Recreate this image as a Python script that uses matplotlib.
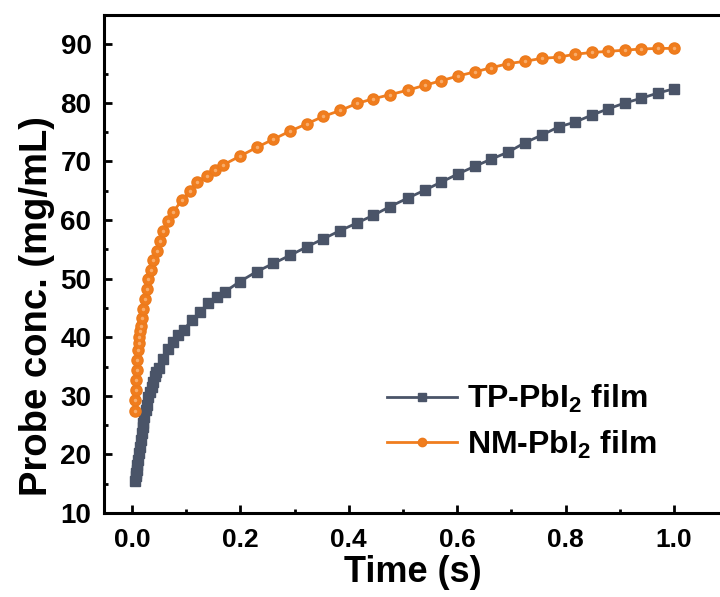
import matplotlib
matplotlib.use('Agg')
import matplotlib.pyplot as plt
from matplotlib.ticker import MultipleLocator

plt.rcParams['font.family'] = ['Liberation Sans', 'DejaVu Sans']
plt.rcParams['font.weight'] = 'bold'
plt.rcParams['mathtext.fontset'] = 'custom'
plt.rcParams['mathtext.bf'] = 'Liberation Sans:bold'
plt.rcParams['mathtext.rm'] = 'Liberation Sans:bold'

# TP-PbI2 film
tp_t = [0.006, 0.007, 0.008, 0.009, 0.010, 0.011, 0.013, 0.015, 0.016, 0.018,
        0.020, 0.021, 0.023, 0.025, 0.027, 0.030, 0.033, 0.036, 0.039, 0.042,
        0.045, 0.049, 0.058, 0.067, 0.076, 0.085, 0.095, 0.110, 0.125, 0.141,
        0.156, 0.172, 0.199, 0.230, 0.261, 0.292, 0.322, 0.353, 0.384, 0.415,
        0.445, 0.476, 0.510, 0.540, 0.571, 0.602, 0.633, 0.663, 0.694, 0.725,
        0.756, 0.787, 0.817, 0.848, 0.879, 0.910, 0.940, 0.971, 1.000]
tp_c = [15.4, 16.3, 16.8, 17.4, 18.2, 19.0, 20.2, 21.3, 22.4, 23.6,
        24.7, 25.3, 26.4, 27.6, 28.4, 29.8, 30.7, 31.5, 32.4, 33.3,
        34.0, 34.7, 36.3, 38.0, 39.2, 40.3, 41.2, 42.9, 44.3, 45.8,
        46.9, 47.8, 49.5, 51.2, 52.6, 54.0, 55.4, 56.8, 58.2, 59.5,
        60.8, 62.3, 63.8, 65.1, 66.5, 67.9, 69.2, 70.4, 71.6, 73.2,
        74.5, 75.9, 76.7, 77.9, 79.0, 80.0, 80.8, 81.7, 82.4]

# NM-PbI2 film
nm_t = [0.005, 0.006, 0.007, 0.008, 0.009, 0.010, 0.011, 0.012, 0.013, 0.015,
        0.016, 0.018, 0.021, 0.024, 0.027, 0.030, 0.035, 0.039, 0.046, 0.052,
        0.058, 0.067, 0.076, 0.092, 0.107, 0.119, 0.138, 0.153, 0.168, 0.199,
        0.230, 0.261, 0.292, 0.322, 0.353, 0.384, 0.415, 0.445, 0.476, 0.510,
        0.540, 0.571, 0.602, 0.633, 0.663, 0.694, 0.725, 0.756, 0.787, 0.817,
        0.848, 0.879, 0.910, 0.940, 0.971, 1.000]
nm_c = [27.4, 29.3, 31.0, 32.7, 34.4, 36.1, 37.8, 39.0, 40.0, 41.0,
        42.0, 43.2, 44.9, 46.6, 48.3, 50.0, 51.4, 53.1, 54.8, 56.5,
        58.2, 59.9, 61.4, 63.4, 65.0, 66.5, 67.5, 68.5, 69.4, 70.9,
        72.4, 73.8, 75.2, 76.4, 77.7, 78.7, 79.9, 80.7, 81.4, 82.2,
        83.0, 83.8, 84.6, 85.3, 86.0, 86.7, 87.1, 87.6, 87.8, 88.3,
        88.6, 88.8, 89.0, 89.2, 89.3, 89.3]

tp_color = '#4a5468'
nm_color = '#f07d1e'

fig = plt.figure(figsize=(7.2, 5.97), dpi=100)
ax = fig.add_axes([104 / 720, 84 / 597, 618 / 720, 498 / 597])

ax.plot(tp_t, tp_c, color=tp_color, lw=2, marker='s', ms=7.5,
        mec=tp_color, mfc=tp_color, label=r'TP-PbI$_\mathbf{2}$ film')
ax.plot(nm_t, nm_c, color=nm_color, lw=2, marker='o', ms=8,
        mec='#ec7a1c', mfc=nm_color, label=r'NM-PbI$_\mathbf{2}$ film')
# little highlight on the round markers
ax.plot(nm_t, nm_c, ls='none', marker='o', ms=2.5, mec='none', mfc='#f8ac6a')

ax.set_xlim(-0.0517, 1.0886)
ax.set_ylim(10, 95)
ax.xaxis.set_major_locator(MultipleLocator(0.2))
ax.xaxis.set_minor_locator(MultipleLocator(0.1))
ax.yaxis.set_minor_locator(MultipleLocator(5))
ax.set_yticks(range(10, 91, 10))

ax.tick_params(which='both', direction='in', width=2, top=False, right=False)
ax.tick_params(which='major', length=6)
ax.tick_params(which='minor', length=3)
ax.tick_params(axis='y', labelsize=20, pad=9)
ax.tick_params(axis='x', labelsize=19, pad=11)

for s in ['left', 'bottom', 'top']:
    ax.spines[s].set_linewidth(2.2)
ax.spines['right'].set_visible(False)

ax.set_xlabel('Time (s)', fontsize=26, fontweight='bold', labelpad=2)
ax.set_ylabel('Probe conc. (mg/mL)', fontsize=27.5, fontweight='bold')
ax.yaxis.set_label_coords(-0.08, 0.416)

leg = ax.legend(loc='center', bbox_to_anchor=(0.676, 0.183), frameon=False,
                fontsize=23, handlelength=2.2, handletextpad=0.3, labelspacing=0.4,
                markerscale=0.75)

fig.savefig('out.png', dpi=100)
